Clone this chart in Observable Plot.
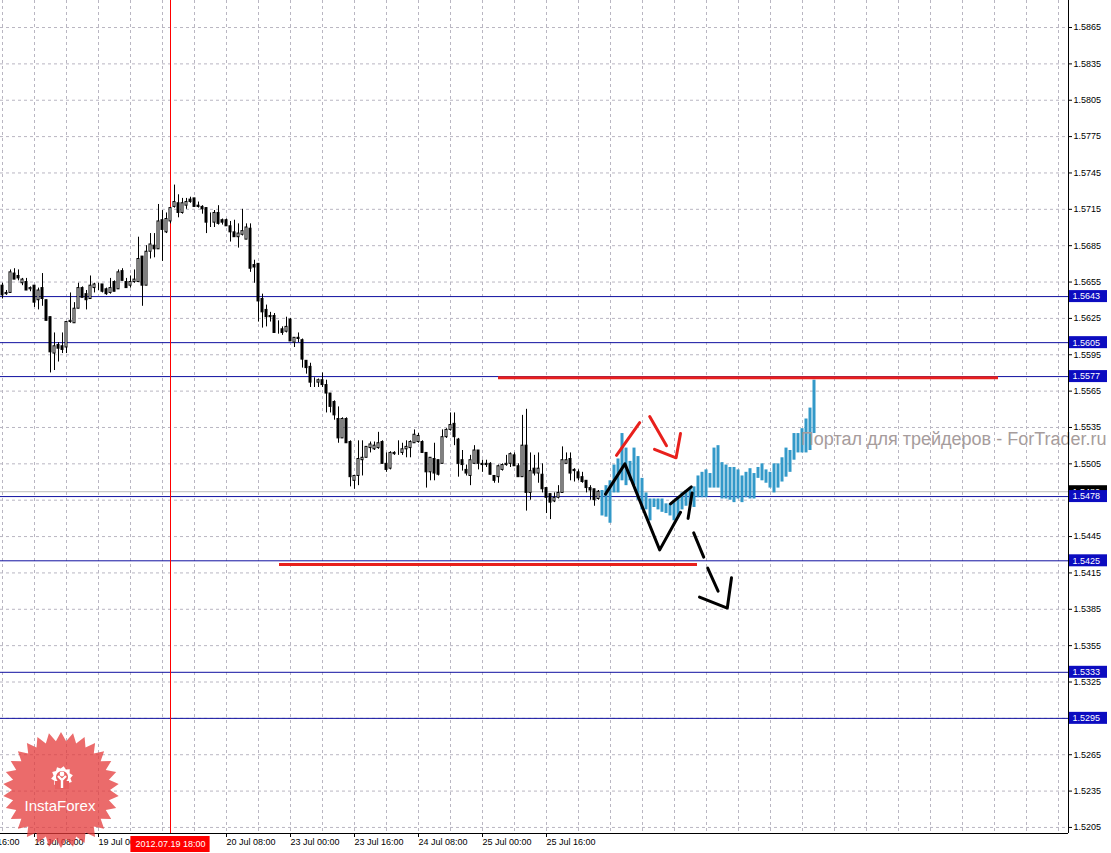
<!DOCTYPE html>
<html><head><meta charset="utf-8">
<script src="https://cdn.jsdelivr.net/npm/d3@7"></script>
<script src="https://cdn.jsdelivr.net/npm/@observablehq/plot@0.6"></script>
<style>
html,body{margin:0;padding:0;background:#fff;}
#chart{position:relative;width:1111px;height:853px;overflow:hidden;}
#logo{position:absolute;left:0;top:0;pointer-events:none;}
</style></head><body><div id="chart"></div>
<script>
// GBPUSD H1 candles, bar 0 = 18 Jul 00:00 (4 px per bar)
const openPrice = [1.5652,1.5645,1.5646,1.5662,1.5660,1.5654,1.5655,1.5649,1.5652,1.5640,
1.5650,1.5640,1.5626,1.5596,1.5603,1.5602,1.5601,1.5622,1.5621,1.5633,
1.5650,1.5645,1.5641,1.5650,1.5652,1.5653,1.5649,1.5646,1.5655,1.5649,
1.5664,1.5655,1.5652,1.5655,1.5655,1.5676,1.5652,1.5680,1.5685,1.5682,
1.5706,1.5696,1.5705,1.5717,1.5720,1.5712,1.5718,1.5723,1.5724,1.5718,
1.5717,1.5716,1.5706,1.5704,1.5712,1.5706,1.5706,1.5701,1.5696,1.5692,
1.5694,1.5690,1.5699,1.5669,1.5670,1.5641,1.5632,1.5627,1.5627,1.5614,
1.5616,1.5614,1.5624,1.5605,1.5609,1.5607,1.5590,1.5585,1.5573,1.5572,
1.5574,1.5570,1.5563,1.5556,1.5542,1.5526,1.5542,1.5523,1.5491,1.5495,
1.5508,1.5510,1.5518,1.5517,1.5518,1.5523,1.5505,1.5501,1.5513,1.5514,
1.5514,1.5517,1.5518,1.5522,1.5523,1.5523,1.5514,1.5498,1.5509,1.5508,
1.5505,1.5527,1.5533,1.5538,1.5525,1.5508,1.5500,1.5495,1.5505,1.5516,
1.5505,1.5505,1.5505,1.5495,1.5494,1.5500,1.5504,1.5505,1.5512,1.5503,
1.5494,1.5520,1.5481,1.5501,1.5497,1.5496,1.5485,1.5480,1.5474,1.5477,
1.5481,1.5505,1.5509,1.5500,1.5498,1.5494,1.5491,1.5485,1.5484,1.5476];
const highPrice = [1.5654,1.5648,1.5665,1.5666,1.5665,1.5658,1.5658,1.5651,1.5652,1.5650,
1.5662,1.5640,1.5626,1.5613,1.5605,1.5613,1.5622,1.5646,1.5638,1.5654,
1.5651,1.5648,1.5660,1.5654,1.5654,1.5653,1.5650,1.5658,1.5656,1.5665,
1.5666,1.5658,1.5660,1.5665,1.5692,1.5676,1.5685,1.5695,1.5695,1.5719,
1.5714,1.5712,1.5716,1.5735,1.5727,1.5724,1.5724,1.5725,1.5724,1.5721,
1.5718,1.5716,1.5712,1.5714,1.5718,1.5707,1.5707,1.5705,1.5706,1.5703,
1.5715,1.5703,1.5703,1.5673,1.5670,1.5645,1.5636,1.5630,1.5629,1.5623,
1.5618,1.5626,1.5625,1.5609,1.5613,1.5608,1.5590,1.5588,1.5576,1.5575,
1.5580,1.5574,1.5563,1.5557,1.5552,1.5543,1.5543,1.5524,1.5495,1.5524,
1.5524,1.5519,1.5523,1.5523,1.5531,1.5524,1.5514,1.5515,1.5515,1.5524,
1.5522,1.5524,1.5524,1.5533,1.5530,1.5524,1.5514,1.5510,1.5522,1.5508,
1.5533,1.5534,1.5547,1.5547,1.5526,1.5516,1.5504,1.5512,1.5520,1.5516,
1.5508,1.5508,1.5506,1.5495,1.5504,1.5505,1.5512,1.5514,1.5514,1.5505,
1.5545,1.5550,1.5514,1.5512,1.5514,1.5505,1.5485,1.5480,1.5481,1.5487,
1.5519,1.5514,1.5514,1.5501,1.5500,1.5498,1.5491,1.5487,1.5484,1.5483];
const lowPrice = [1.5641,1.5644,1.5646,1.5657,1.5656,1.5652,1.5648,1.5647,1.5634,1.5632,
1.5635,1.5623,1.5580,1.5582,1.5589,1.5596,1.5596,1.5621,1.5621,1.5633,
1.5642,1.5632,1.5641,1.5646,1.5648,1.5646,1.5644,1.5645,1.5647,1.5649,
1.5656,1.5650,1.5650,1.5654,1.5655,1.5635,1.5652,1.5674,1.5675,1.5682,
1.5672,1.5695,1.5703,1.5716,1.5708,1.5711,1.5715,1.5720,1.5717,1.5716,
1.5711,1.5695,1.5700,1.5700,1.5702,1.5702,1.5701,1.5688,1.5692,1.5683,
1.5693,1.5690,1.5663,1.5654,1.5622,1.5617,1.5618,1.5622,1.5613,1.5612,
1.5611,1.5613,1.5606,1.5601,1.5605,1.5584,1.5579,1.5568,1.5568,1.5568,
1.5568,1.5547,1.5547,1.5541,1.5522,1.5526,1.5522,1.5486,1.5484,1.5487,
1.5495,1.5510,1.5514,1.5516,1.5517,1.5505,1.5498,1.5500,1.5512,1.5512,
1.5512,1.5510,1.5510,1.5522,1.5522,1.5514,1.5485,1.5491,1.5491,1.5495,
1.5505,1.5526,1.5532,1.5520,1.5494,1.5499,1.5495,1.5487,1.5505,1.5500,
1.5498,1.5502,1.5496,1.5489,1.5489,1.5499,1.5503,1.5502,1.5503,1.5494,
1.5494,1.5466,1.5475,1.5495,1.5489,1.5481,1.5464,1.5459,1.5473,1.5476,
1.5481,1.5505,1.5491,1.5490,1.5491,1.5489,1.5481,1.5475,1.5470,1.5475];
const closePrice = [1.5644,1.5646,1.5663,1.5657,1.5658,1.5657,1.5648,1.5650,1.5638,1.5648,
1.5641,1.5623,1.5597,1.5602,1.5600,1.5599,1.5622,1.5623,1.5633,1.5650,
1.5642,1.5640,1.5652,1.5653,1.5652,1.5647,1.5645,1.5650,1.5647,1.5663,
1.5656,1.5650,1.5655,1.5657,1.5674,1.5652,1.5680,1.5686,1.5682,1.5705,
1.5698,1.5707,1.5716,1.5721,1.5712,1.5720,1.5721,1.5721,1.5717,1.5717,
1.5715,1.5704,1.5706,1.5712,1.5703,1.5704,1.5701,1.5696,1.5692,1.5695,
1.5697,1.5700,1.5666,1.5667,1.5639,1.5630,1.5626,1.5626,1.5613,1.5614,
1.5613,1.5618,1.5606,1.5609,1.5608,1.5591,1.5584,1.5572,1.5573,1.5574,
1.5570,1.5563,1.5552,1.5545,1.5526,1.5542,1.5522,1.5494,1.5495,1.5509,
1.5510,1.5519,1.5521,1.5520,1.5522,1.5505,1.5500,1.5514,1.5514,1.5514,
1.5517,1.5519,1.5523,1.5529,1.5528,1.5514,1.5498,1.5510,1.5497,1.5496,
1.5527,1.5533,1.5537,1.5527,1.5505,1.5504,1.5497,1.5508,1.5516,1.5505,
1.5504,1.5504,1.5496,1.5491,1.5503,1.5504,1.5505,1.5513,1.5503,1.5494,
1.5520,1.5481,1.5499,1.5497,1.5501,1.5484,1.5477,1.5473,1.5477,1.5481,
1.5508,1.5508,1.5497,1.5499,1.5493,1.5490,1.5485,1.5483,1.5475,1.5482];

// Forecast (blue) bars, starting at bar 150
const forecastStart = 150;
const forecastHigh = [1.5483,1.5487,1.5491,1.5504,1.5509,1.5530,1.5518,1.5507,1.5518,1.5511,
1.5493,1.5481,1.5476,1.5476,1.5476,1.5476,1.5472,1.5472,1.5473,1.5477,
1.5481,1.5483,1.5485,1.5486,1.5495,1.5498,1.5500,1.5497,1.5518,1.5520,
1.5506,1.5504,1.5502,1.5502,1.5500,1.5495,1.5498,1.5501,1.5497,1.5502,
1.5505,1.5500,1.5498,1.5505,1.5505,1.5510,1.5518,1.5516,1.5530,1.5530,
1.5534,1.5542,1.5551,1.5574];
const forecastLow = [1.5462,1.5461,1.5456,1.5481,1.5481,1.5491,1.5487,1.5491,1.5487,1.5475,
1.5467,1.5467,1.5458,1.5469,1.5467,1.5465,1.5464,1.5462,1.5458,1.5461,
1.5467,1.5470,1.5471,1.5469,1.5477,1.5477,1.5477,1.5485,1.5485,1.5485,
1.5476,1.5476,1.5475,1.5473,1.5476,1.5473,1.5477,1.5476,1.5476,1.5493,
1.5491,1.5489,1.5485,1.5481,1.5485,1.5490,1.5494,1.5498,1.5508,1.5514,
1.5514,1.5514,1.5516,1.5530];

// Horizontal levels with labels on the price axis
const levelPrices = [1.5643, 1.5605, 1.5577, 1.5478, 1.5425, 1.5333, 1.5295];
const bidPrice = 1.5482;

// Red horizontal support/resistance lines
const redLevelPrice = [1.5576, 1.5422];
const redLevelFrom = [124, 69.25];
const redLevelTo = [249, 173.75];

// Hand-drawn pattern lines (segment id, bar, price)
const blackSeg = ["a","a","a","a","b","b","c","c","d","d","e","e","f","f","f"];
const blackBar = [150.75,155.6,164.3,169.5,167,172.2,171.4,172.4,172.8,175.3,176.3,178.9,174.25,181.2,182.25];
const blackPrice = [1.5480,1.5505,1.5434,1.5465,1.5472,1.5486,1.5460,1.5481,1.5448,1.5428,1.5419,1.5400,1.5395,1.5386,1.5411];
const redSeg = ["g","g","h","h","i","i","i"];
const redBar = [153.5,159.3,161.8,166,163,168.4,169.5];
const redPrice = [1.5512,1.5539,1.5544,1.5520,1.5517,1.5510,1.5530];

// Axis ticks (grid at every price tick; labels hidden under level boxes are omitted)
const priceTicks = [1.5205,1.5235,1.5265,1.5295,1.5325,1.5355,1.5385,1.5415,1.5445,1.5475,1.5505,1.5535,
1.5565,1.5595,1.5625,1.5655,1.5685,1.5715,1.5745,1.5775,1.5805,1.5835,1.5865];
const hiddenTickLabels = [1.5295, 1.5475];
const timeBars = [-8, 8, 24, 56, 72, 88, 104, 120, 136];
const timeLabels = ["17 Jul 16:00","18 Jul 08:00","19 Jul 00:00","20 Jul 08:00",
"23 Jul 00:00","23 Jul 16:00","24 Jul 08:00","25 Jul 00:00","25 Jul 16:00"];
const gridBars = d3.range(0, 265, 8);
const cursorBar = 42;
const cursorLabel = "2012.07.19 18:00";
const watermark = "Портал для трейдеров - ForTrader.ru";
const watermarkBar = 276, watermarkPrice = 1.5525;

const xDomain = [-0.5, 266.5];
const yDomain = [1.5200, 1.58873];

const candles = openPrice.map((o, i) => ({bar: i, open: o, high: highPrice[i], low: lowPrice[i], close: closePrice[i]}));
const up = candles.filter(d => d.close >= d.open);
const down = candles.filter(d => d.close < d.open);
const forecast = forecastHigh.map((h, i) => ({bar: forecastStart + i, high: h, low: forecastLow[i]}));
const redLevels = redLevelPrice.map((p, i) => ({price: p, from: redLevelFrom[i], to: redLevelTo[i]}));
const blackPts = blackBar.map((b, i) => ({seg: blackSeg[i], bar: b, price: blackPrice[i]}));
const redPts = redBar.map((b, i) => ({seg: redSeg[i], bar: b, price: redPrice[i]}));
const labelTicks = priceTicks.filter(t => !hiddenTickLabels.includes(t));
const xMax = xDomain[1], yMin = yDomain[0];

const plot = Plot.plot({
  width: 1111, height: 853,
  marginLeft: 0, marginRight: 43, marginTop: 0, marginBottom: 20,
  x: {domain: xDomain, axis: null},
  y: {domain: yDomain, axis: null},
  style: {background: "white", fontFamily: "Liberation Sans, Arial, sans-serif", fontSize: "9px", color: "black", overflow: "visible"},
  marks: [
    Plot.ruleY(priceTicks, {stroke: "#b9b6c2", strokeDasharray: "3,3"}),
    Plot.ruleX(gridBars, {stroke: "#b9b6c2", strokeDasharray: "3,3"}),
    Plot.ruleY([bidPrice], {stroke: "#bdbdbd"}),
    Plot.ruleY(levelPrices, {stroke: "#1010a0"}),
    Plot.ruleX([cursorBar], {stroke: "#ff0000"}),
    Plot.ruleX(candles, {x: "bar", y1: "low", y2: "high", stroke: "black"}),
    Plot.rect(up, {x1: d => d.bar - 0.25, x2: d => d.bar + 0.25, y1: "open", y2: "close", fill: "white", stroke: "black"}),
    Plot.rect(down, {x1: d => d.bar - 0.25, x2: d => d.bar + 0.25, y1: "open", y2: "close", fill: "black", stroke: "black"}),
    Plot.rect(forecast, {x1: d => d.bar - 0.375, x2: d => d.bar + 0.375, y1: "low", y2: "high", fill: "#3399c9"}),
    Plot.text([watermark], {x: () => watermarkBar, y: () => watermarkPrice, text: d => d, textAnchor: "end", fill: "#a69c9c", fontSize: 18}),
    Plot.ruleY(redLevels, {y: "price", x1: "from", x2: "to", stroke: "#e8201c", strokeWidth: 3}),
    Plot.line(redPts, {x: "bar", y: "price", z: "seg", stroke: "#e8201c", strokeWidth: 3, strokeLinejoin: "round"}),
    Plot.line(blackPts, {x: "bar", y: "price", z: "seg", stroke: "black", strokeWidth: 3, strokeLinejoin: "round"}),
    // frame lines
    Plot.ruleX([xMax], {stroke: "black"}),
    Plot.ruleY([yMin], {stroke: "black"}),
    Plot.axisY({anchor: "right", ticks: labelTicks, tickFormat: d => d.toFixed(4), tickSize: 3, tickPadding: 2, label: null, fill: "black"}),
    Plot.axisX({anchor: "bottom", ticks: timeBars, tickFormat: d => timeLabels[timeBars.indexOf(d)], tickSize: 4, tickPadding: 1, textAnchor: "start", dx: 0, label: null, fill: "black"}),
    // cursor time label
    Plot.rect([cursorBar], {x1: d => d - 9.9, x2: d => d + 9.9, y1: () => yMin, y2: () => yMin, insetTop: 3, insetBottom: -19, fill: "#ff0000"}),
    Plot.text([cursorLabel], {x: () => cursorBar, y: () => yMin, dy: 11, text: d => d, fill: "white", textAnchor: "middle"}),
    // bid label (black) then level labels (blue)
    Plot.rect([bidPrice], {x1: () => xMax, x2: () => xMax, y1: d => d, y2: d => d, insetLeft: 1, insetRight: -39, insetTop: -6, insetBottom: -6, fill: "black"}),
    Plot.text([bidPrice], {x: () => xMax, y: d => d, text: d => d.toFixed(4), dx: 4, textAnchor: "start", fill: "white"}),
    Plot.rect(levelPrices, {x1: () => xMax, x2: () => xMax, y1: d => d, y2: d => d, insetLeft: 1, insetRight: -39, insetTop: -6, insetBottom: -6, fill: "#0c0cc0"}),
    Plot.text(levelPrices, {x: () => xMax, y: d => d, text: d => d.toFixed(4), dx: 4, textAnchor: "start", fill: "white"})
  ]
});
const chart = document.getElementById("chart");
chart.appendChild(plot);

// InstaForex badge
const logo = d3.select(chart).append("svg").attr("id", "logo").attr("width", 1111).attr("height", 853);
const cx = 61, cy = 790, R = 58, r = 49, N = 30;
const star = d3.range(2 * N).map(i => {
  const a = Math.PI * i / N - Math.PI / 2;
  const rr = i % 2 === 0 ? R : r;
  return [cx + rr * Math.cos(a), cy + rr * Math.sin(a)];
});
logo.append("path").attr("d", "M" + star.join("L") + "Z").attr("fill", "#e43a3a").attr("fill-opacity", 0.75);
const gx = 62, gy = 777;
const gear = d3.range(20).map(i => {
  const a = Math.PI * 2 * i / 20 - Math.PI / 2 + Math.PI / 20;
  const rr = i % 2 === 0 ? 11 : 8.5;
  return [gx + rr * Math.cos(a), gy + rr * Math.sin(a)];
});
logo.append("path").attr("d", "M" + gear.join("L") + "Z").attr("fill", "white");
logo.append("circle").attr("cx", gx).attr("cy", gy).attr("r", 6).attr("fill", "#e86060");
logo.append("rect").attr("x", gx - 7).attr("y", gy + 4).attr("width", 14).attr("height", 8).attr("fill", "#e86060");
logo.append("circle").attr("cx", gx).attr("cy", gy - 3).attr("r", 2.4).attr("fill", "white");
logo.append("path").attr("d", `M${gx-4},${gy-1} L${gx},${gy+3} L${gx+4},${gy-1} M${gx},${gy+3} L${gx},${gy+11}`)
  .attr("stroke", "white").attr("stroke-width", 2.4).attr("fill", "none");
logo.append("text").attr("x", 60).attr("y", 811).attr("text-anchor", "middle")
  .attr("font-family", "Liberation Sans, Arial, sans-serif").attr("font-size", 15).attr("fill", "white").text("InstaForex");
</script>
</body></html>
